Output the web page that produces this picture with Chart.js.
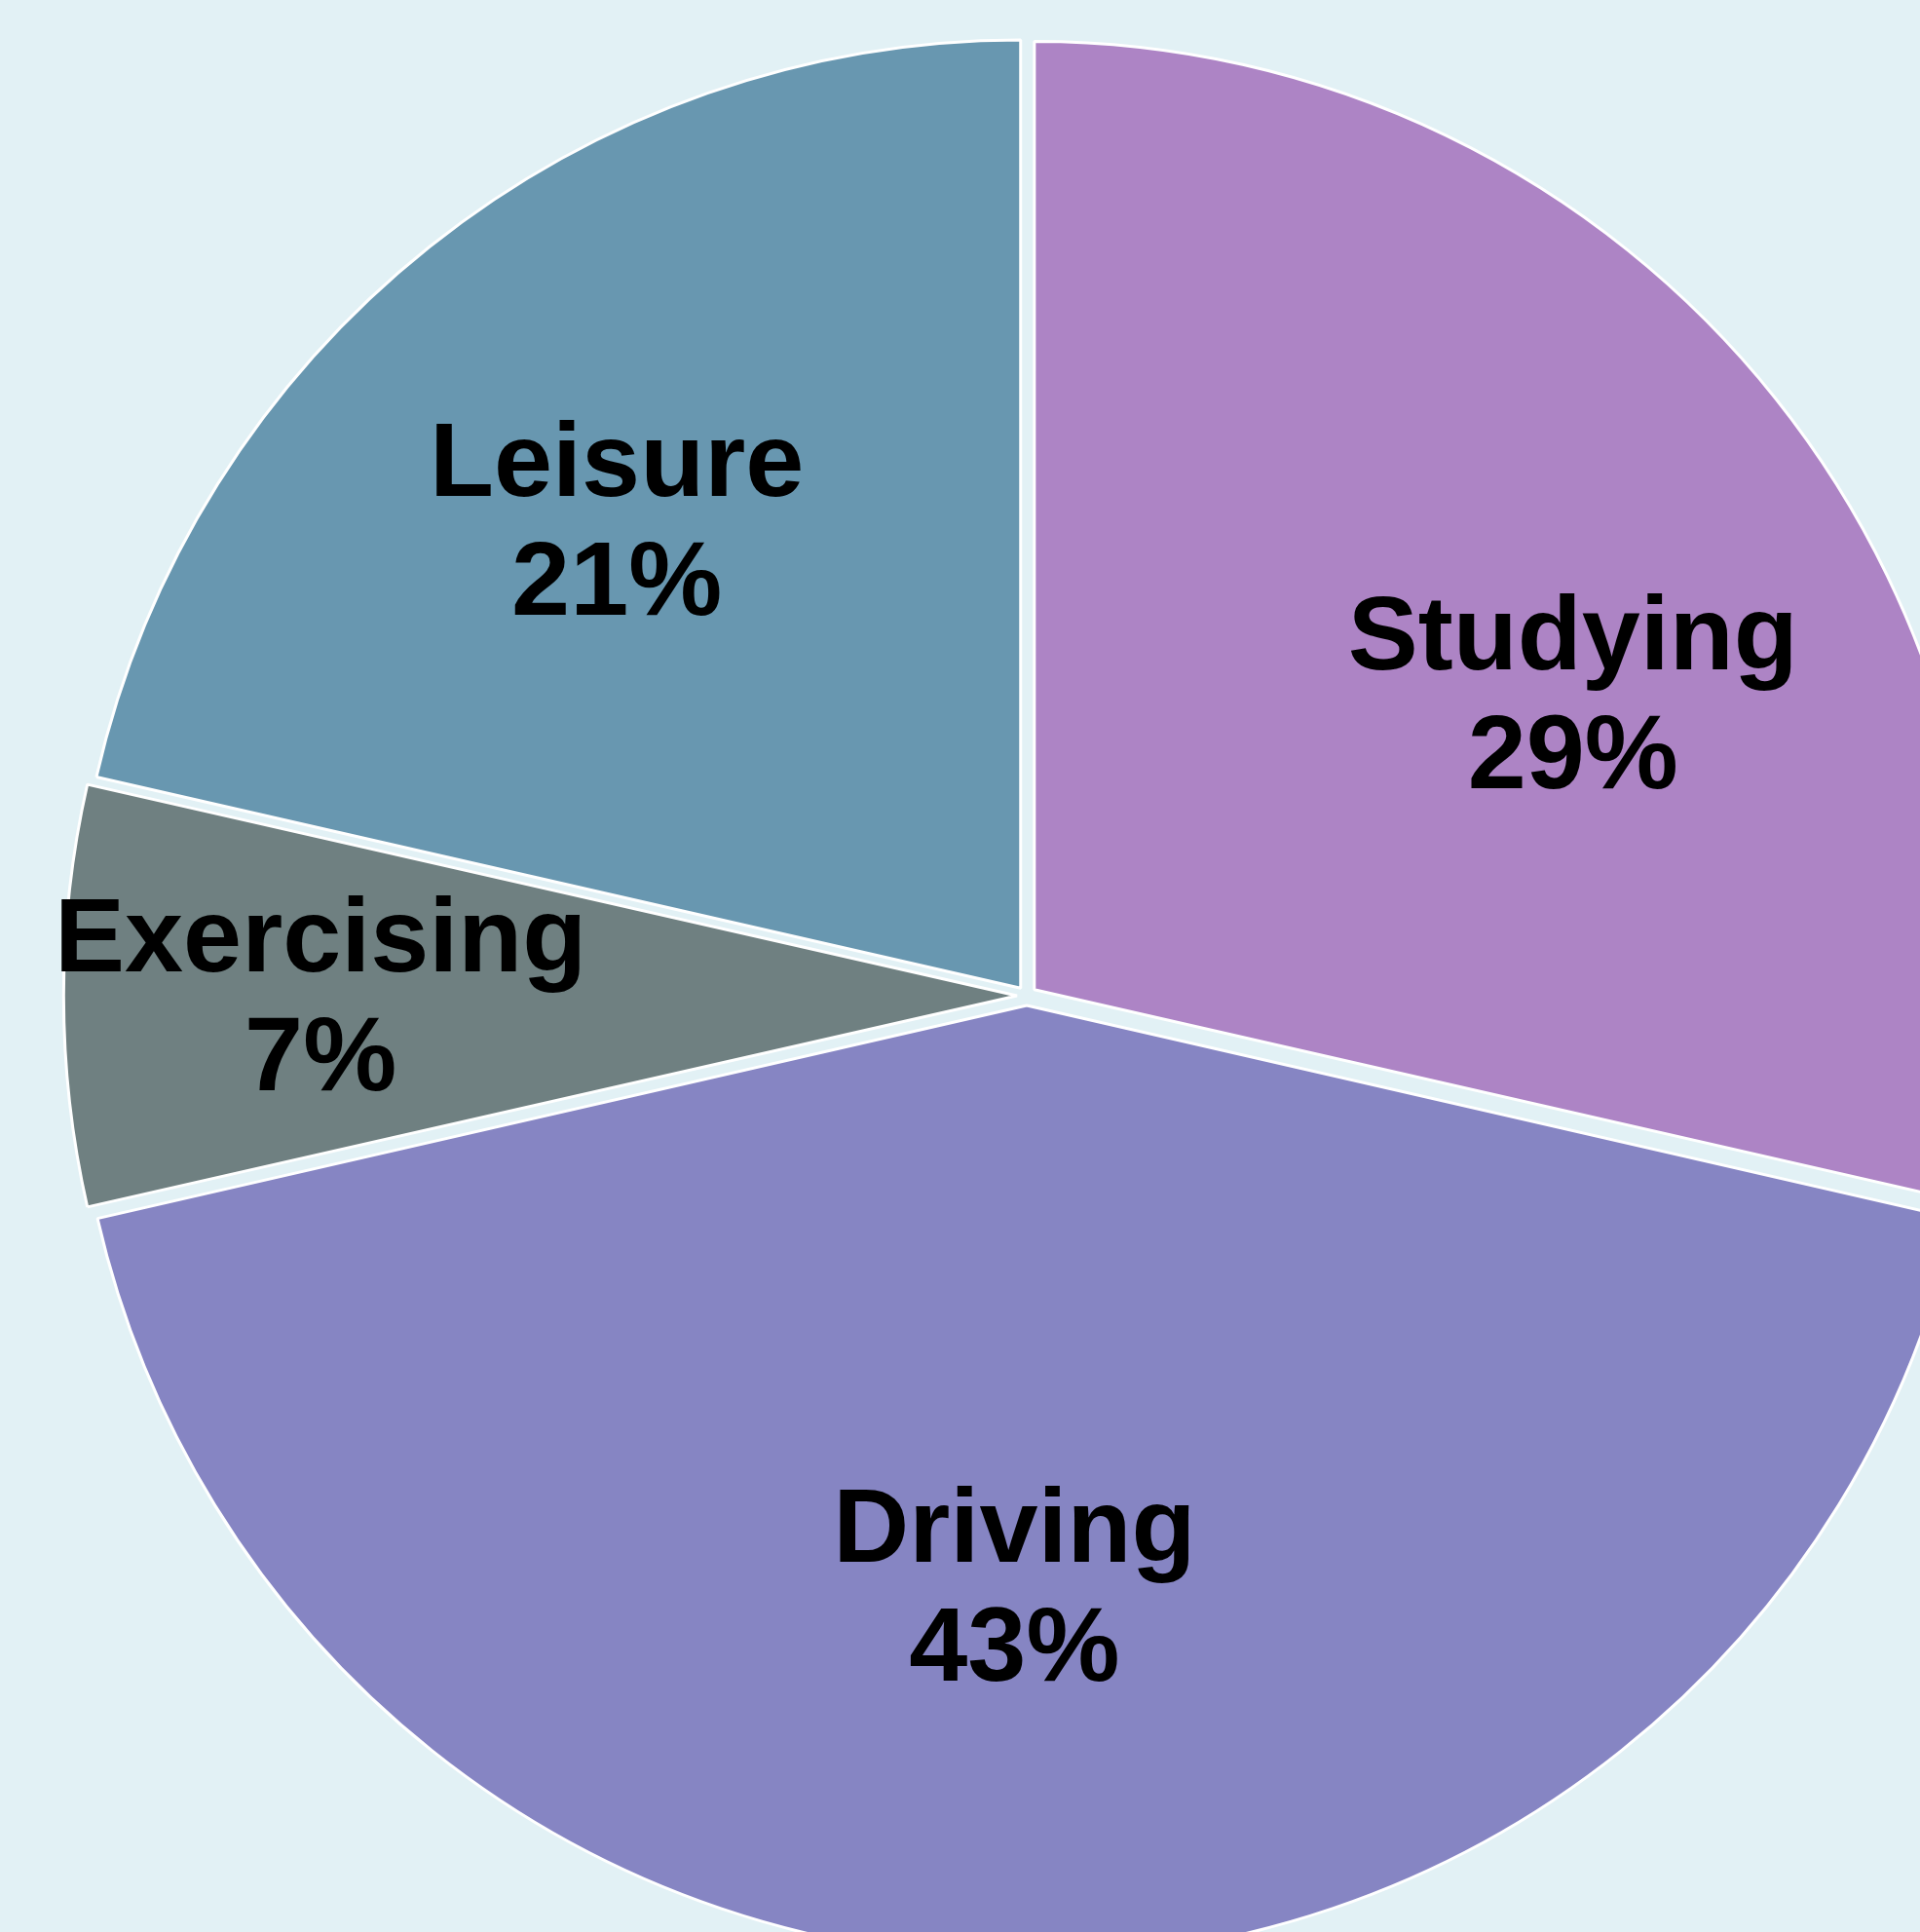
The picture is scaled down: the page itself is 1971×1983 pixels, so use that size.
<!DOCTYPE html>
<html>
<head>
<meta charset="utf-8">
<script src="https://cdn.jsdelivr.net/npm/chart.js@4.4.1/dist/chart.umd.min.js"></script>
<style>
  html, body { margin: 0; padding: 0; background: #E2F1F5; overflow: hidden; }
  #wrap { width: 1971px; height: 1983px; }
</style>
</head>
<body>
<div id="wrap"><canvas id="pieChart" width="1971" height="1983"></canvas></div>
<script>
// datos del gráfico (horas)
const categories = ['Studying', 'Driving', 'Exercising', 'Leisure'];
const hours = [4, 6, 1, 3];
const sliceColors = ['#AD84C5', '#8685C3', '#6F8081', '#6897B0'];

// etiquetas dentro de cada porción (nombre + porcentaje)
const sliceLabels = {
    id: 'sliceLabels',
    afterDatasetsDraw(chart, args, opts) {
        const ctx = chart.ctx;
        const meta = chart.getDatasetMeta(0);
        const total = hours.reduce((a, b) => a + b, 0);
        ctx.save();
        ctx.fillStyle = '#000';
        ctx.font = 'bold 108px "Liberation Sans", Arial, sans-serif';
        ctx.textAlign = 'center';
        ctx.textBaseline = 'alphabetic';
        meta.data.forEach((arc, i) => {
            const p = opts.place[i];
            const mid = (arc.startAngle + arc.endAngle) / 2 + p.da * Math.PI / 180;
            const r = arc.outerRadius * p.r;
            const x = arc.x + Math.cos(mid) * r;
            const y = arc.y + Math.sin(mid) * r;
            const pct = Math.round(hours[i] / total * 100) + '%';
            ctx.fillText(categories[i], x, y - 22);
            ctx.fillText(pct, x, y + 100);
        });
        ctx.restore();
    }
};

new Chart(document.getElementById('pieChart'), {
    type: 'pie',
    data: {
        labels: categories,
        datasets: [{
            data: hours,
            backgroundColor: sliceColors,
            borderColor: '#FFFFFF',
            borderWidth: 3,
            offset: 40,   // Chart.js desplaza offset/4 px
            clip: false
        }]
    },
    options: {
        responsive: false,
        animation: false,
        radius: 973,
        layout: { padding: { left: 137, top: 61, right: 0, bottom: 0 } },
        plugins: {
            legend: { display: false },
            tooltip: { enabled: false },
            sliceLabels: {
                place: [
                    { da: 9.4, r: 0.66 },
                    { da: 1.2, r: 0.62 },
                    { da: 0.2, r: 0.745 },
                    { da: -2.0, r: 0.665 }
                ]
            }
        }
    },
    plugins: [sliceLabels]
});
</script>
</body>
</html>
